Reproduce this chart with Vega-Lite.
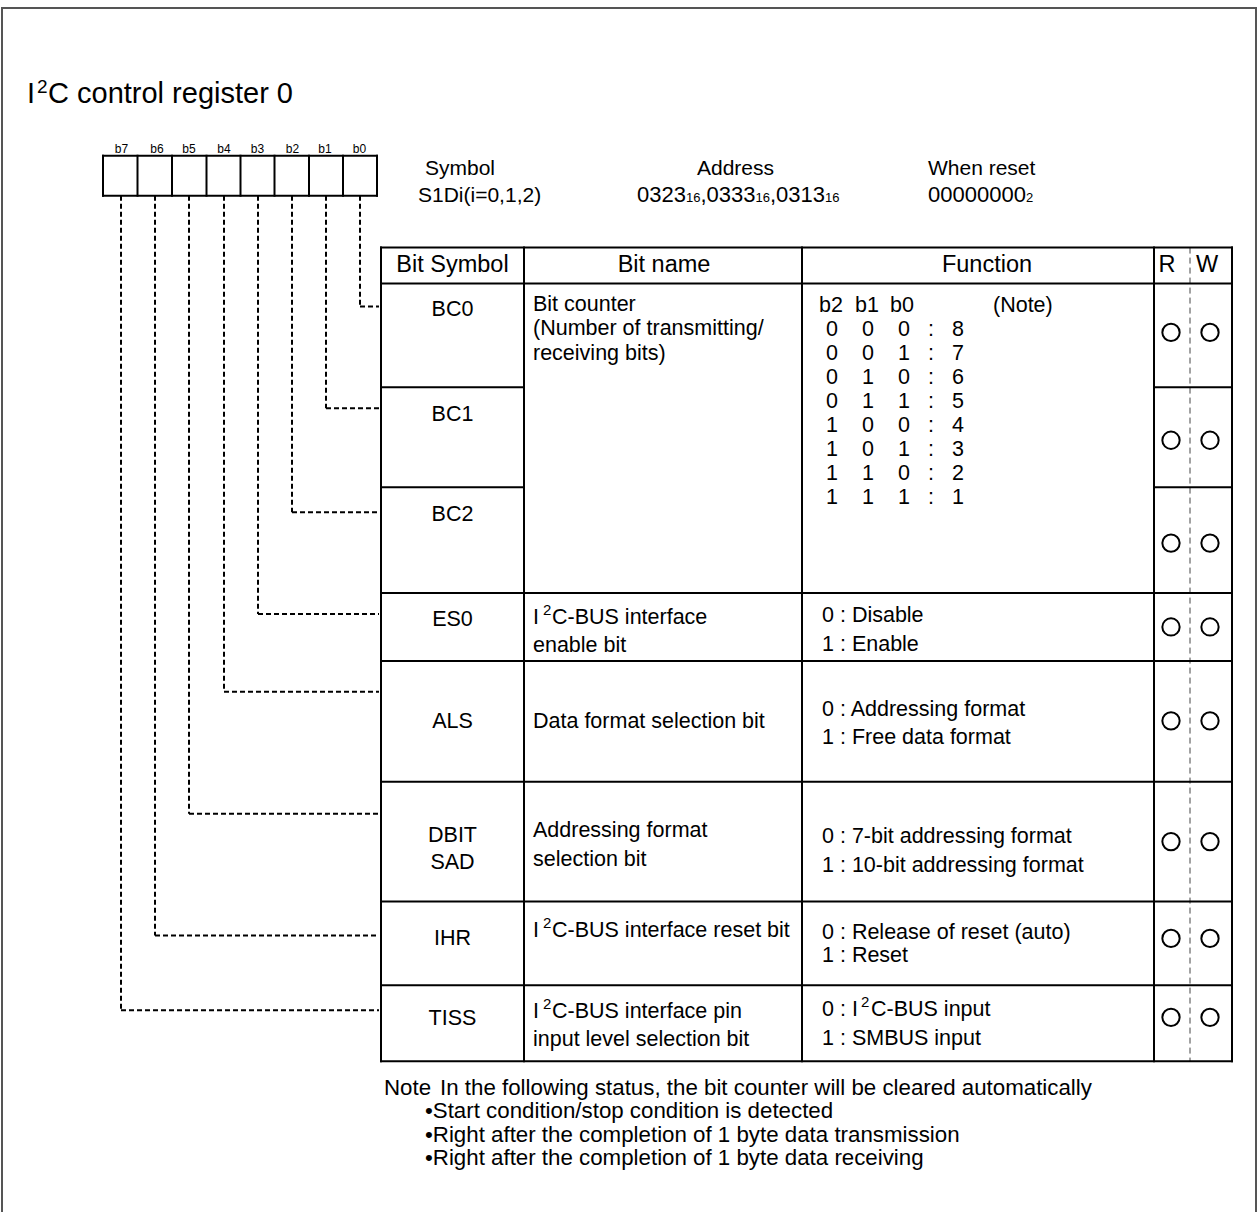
{
  "$schema": "https://vega.github.io/schema/vega-lite/v6.json",
  "width": 1259,
  "height": 1213,
  "autosize": {"type": "fit", "contains": "padding"},
  "padding": 0,
  "background": "white",
  "config": {"view": {"stroke": null}, "text": {"font": "Liberation Sans", "color": "black"}},
  "datasets": {
    "frame": [
      {"x": 2, "y": 8, "x2": 1256, "y2": 8},
      {"x": 2, "y": 8, "x2": 2, "y2": 1213},
      {"x": 1256, "y": 8, "x2": 1256, "y2": 1213}
    ],
    "grid": [
      {"x": 103, "y": 156, "x2": 377, "y2": 156},
      {"x": 103, "y": 196, "x2": 377, "y2": 196},
      {"x": 103, "y": 156, "x2": 103, "y2": 196},
      {"x": 137.5, "y": 156, "x2": 137.5, "y2": 196},
      {"x": 172, "y": 156, "x2": 172, "y2": 196},
      {"x": 206.5, "y": 156, "x2": 206.5, "y2": 196},
      {"x": 240.5, "y": 156, "x2": 240.5, "y2": 196},
      {"x": 274.5, "y": 156, "x2": 274.5, "y2": 196},
      {"x": 309, "y": 156, "x2": 309, "y2": 196},
      {"x": 343, "y": 156, "x2": 343, "y2": 196},
      {"x": 377, "y": 156, "x2": 377, "y2": 196},
      {"x": 381, "y": 248, "x2": 1232, "y2": 248},
      {"x": 381, "y": 284, "x2": 1232, "y2": 284},
      {"x": 381, "y": 388, "x2": 524, "y2": 388},
      {"x": 1154, "y": 388, "x2": 1232, "y2": 388},
      {"x": 381, "y": 488, "x2": 524, "y2": 488},
      {"x": 1154, "y": 488, "x2": 1232, "y2": 488},
      {"x": 381, "y": 594, "x2": 1232, "y2": 594},
      {"x": 381, "y": 662, "x2": 1232, "y2": 662},
      {"x": 381, "y": 783, "x2": 1232, "y2": 783},
      {"x": 381, "y": 903, "x2": 1232, "y2": 903},
      {"x": 381, "y": 987, "x2": 1232, "y2": 987},
      {"x": 381, "y": 1063, "x2": 1232, "y2": 1063},
      {"x": 381, "y": 248, "x2": 381, "y2": 1063},
      {"x": 524, "y": 248, "x2": 524, "y2": 1063},
      {"x": 802, "y": 248, "x2": 802, "y2": 1063},
      {"x": 1154, "y": 248, "x2": 1154, "y2": 1063},
      {"x": 1232, "y": 248, "x2": 1232, "y2": 1063}
    ],
    "rw": [
      {"x": 1190, "y": 248, "x2": 1190, "y2": 1063}
    ],
    "leaders": [
      {"x": 360, "y": 196, "x2": 360, "y2": 307},
      {"x": 360, "y": 307, "x2": 379, "y2": 307},
      {"x": 326, "y": 196, "x2": 326, "y2": 409},
      {"x": 326, "y": 409, "x2": 379, "y2": 409},
      {"x": 292, "y": 196, "x2": 292, "y2": 513},
      {"x": 292, "y": 513, "x2": 379, "y2": 513},
      {"x": 258, "y": 196, "x2": 258, "y2": 615},
      {"x": 258, "y": 615, "x2": 379, "y2": 615},
      {"x": 224, "y": 196, "x2": 224, "y2": 693},
      {"x": 224, "y": 693, "x2": 379, "y2": 693},
      {"x": 189, "y": 196, "x2": 189, "y2": 815},
      {"x": 189, "y": 815, "x2": 379, "y2": 815},
      {"x": 155, "y": 196, "x2": 155, "y2": 937},
      {"x": 155, "y": 937, "x2": 379, "y2": 937},
      {"x": 121, "y": 196, "x2": 121, "y2": 1012},
      {"x": 121, "y": 1012, "x2": 379, "y2": 1012}
    ],
    "circles": [
      {"x": 1171, "y": 333}, {"x": 1210, "y": 333},
      {"x": 1171, "y": 441}, {"x": 1210, "y": 441},
      {"x": 1171, "y": 544}, {"x": 1210, "y": 544},
      {"x": 1171, "y": 628}, {"x": 1210, "y": 628},
      {"x": 1171, "y": 722}, {"x": 1210, "y": 722},
      {"x": 1171, "y": 843}, {"x": 1210, "y": 843},
      {"x": 1171, "y": 940}, {"x": 1210, "y": 940},
      {"x": 1171, "y": 1019}, {"x": 1210, "y": 1019}
    ],
    "title": [
      {"x": 27, "y": 103, "t": "I"},
      {"x": 48, "y": 103, "t": "C control register 0"}
    ],
    "titlesup": [
      {"x": 37, "y": 93, "t": "2"}
    ],
    "bitlabels": [
      {"x": 121.5, "y": 153, "t": "b7"},
      {"x": 157, "y": 153, "t": "b6"},
      {"x": 189, "y": 153, "t": "b5"},
      {"x": 224, "y": 153, "t": "b4"},
      {"x": 257.5, "y": 153, "t": "b3"},
      {"x": 292.5, "y": 153, "t": "b2"},
      {"x": 325, "y": 153, "t": "b1"},
      {"x": 359.5, "y": 153, "t": "b0"}
    ],
    "info": [
      {"x": 425, "y": 175, "t": "Symbol"},
      {"x": 418, "y": 202, "t": "S1Di(i=0,1,2)"},
      {"x": 697, "y": 175, "t": "Address"},
      {"x": 928, "y": 175, "t": "When reset"}
    ],
    "infonum": [
      {"x": 637, "y": 202, "t": "0323"},
      {"x": 700.4, "y": 202, "t": ",0333"},
      {"x": 769.9, "y": 202, "t": ",0313"},
      {"x": 928, "y": 202, "t": "00000000"}
    ],
    "infosub": [
      {"x": 685.9, "y": 202, "t": "16"},
      {"x": 755.4, "y": 202, "t": "16"},
      {"x": 824.9, "y": 202, "t": "16"},
      {"x": 1026, "y": 202, "t": "2"}
    ],
    "headers": [
      {"x": 452.5, "y": 272, "t": "Bit Symbol"},
      {"x": 664, "y": 272, "t": "Bit name"},
      {"x": 987, "y": 272, "t": "Function"},
      {"x": 1167, "y": 272, "t": "R"},
      {"x": 1207, "y": 272, "t": "W"}
    ],
    "symbols": [
      {"x": 452.5, "y": 317, "t": "BC0"},
      {"x": 452.5, "y": 422, "t": "BC1"},
      {"x": 452.5, "y": 522, "t": "BC2"},
      {"x": 452.5, "y": 627, "t": "ES0"},
      {"x": 452.5, "y": 729, "t": "ALS"},
      {"x": 452.5, "y": 843, "t": "DBIT"},
      {"x": 452.5, "y": 870, "t": "SAD"},
      {"x": 452.5, "y": 947, "t": "IHR"},
      {"x": 452.5, "y": 1027, "t": "TISS"}
    ],
    "body": [
      {"x": 533, "y": 312, "t": "Bit counter"},
      {"x": 533, "y": 336, "t": "(Number of transmitting/"},
      {"x": 533, "y": 361, "t": "receiving bits)"},
      {"x": 533, "y": 625, "t": "I"},
      {"x": 552, "y": 625, "t": "C-BUS interface"},
      {"x": 533, "y": 653, "t": "enable bit"},
      {"x": 533, "y": 729, "t": "Data format selection bit"},
      {"x": 533, "y": 838, "t": "Addressing format"},
      {"x": 533, "y": 867, "t": "selection bit"},
      {"x": 533, "y": 939, "t": "I"},
      {"x": 552, "y": 939, "t": "C-BUS interface reset bit"},
      {"x": 533, "y": 1020, "t": "I"},
      {"x": 552, "y": 1020, "t": "C-BUS interface pin"},
      {"x": 533, "y": 1048, "t": "input level selection bit"},
      {"x": 993, "y": 313, "t": "(Note)"},
      {"x": 822, "y": 623, "t": "0 : Disable"},
      {"x": 822, "y": 652, "t": "1 : Enable"},
      {"x": 822, "y": 717, "t": "0 : Addressing format"},
      {"x": 822, "y": 745, "t": "1 : Free data format"},
      {"x": 822, "y": 844, "t": "0 : 7-bit addressing format"},
      {"x": 822, "y": 873, "t": "1 : 10-bit addressing format"},
      {"x": 822, "y": 941, "t": "0 : Release of reset (auto)"},
      {"x": 822, "y": 964, "t": "1 : Reset"},
      {"x": 822, "y": 1018, "t": "0 : I"},
      {"x": 871, "y": 1018, "t": "C-BUS input"},
      {"x": 822, "y": 1047, "t": "1 : SMBUS input"}
    ],
    "sup": [
      {"x": 543, "y": 616, "t": "2"},
      {"x": 543, "y": 930, "t": "2"},
      {"x": 543, "y": 1011, "t": "2"},
      {"x": 861, "y": 1009, "t": "2"}
    ],
    "bittable": [
      {"x": 831, "y": 313, "t": "b2"}, {"x": 867, "y": 313, "t": "b1"}, {"x": 902, "y": 313, "t": "b0"},
      {"x": 832, "y": 337, "t": "0"}, {"x": 868, "y": 337, "t": "0"}, {"x": 904, "y": 337, "t": "0"}, {"x": 931, "y": 337, "t": ":"}, {"x": 958, "y": 337, "t": "8"},
      {"x": 832, "y": 361, "t": "0"}, {"x": 868, "y": 361, "t": "0"}, {"x": 904, "y": 361, "t": "1"}, {"x": 931, "y": 361, "t": ":"}, {"x": 958, "y": 361, "t": "7"},
      {"x": 832, "y": 385, "t": "0"}, {"x": 868, "y": 385, "t": "1"}, {"x": 904, "y": 385, "t": "0"}, {"x": 931, "y": 385, "t": ":"}, {"x": 958, "y": 385, "t": "6"},
      {"x": 832, "y": 409, "t": "0"}, {"x": 868, "y": 409, "t": "1"}, {"x": 904, "y": 409, "t": "1"}, {"x": 931, "y": 409, "t": ":"}, {"x": 958, "y": 409, "t": "5"},
      {"x": 832, "y": 433, "t": "1"}, {"x": 868, "y": 433, "t": "0"}, {"x": 904, "y": 433, "t": "0"}, {"x": 931, "y": 433, "t": ":"}, {"x": 958, "y": 433, "t": "4"},
      {"x": 832, "y": 457, "t": "1"}, {"x": 868, "y": 457, "t": "0"}, {"x": 904, "y": 457, "t": "1"}, {"x": 931, "y": 457, "t": ":"}, {"x": 958, "y": 457, "t": "3"},
      {"x": 832, "y": 481, "t": "1"}, {"x": 868, "y": 481, "t": "1"}, {"x": 904, "y": 481, "t": "0"}, {"x": 931, "y": 481, "t": ":"}, {"x": 958, "y": 481, "t": "2"},
      {"x": 832, "y": 505, "t": "1"}, {"x": 868, "y": 505, "t": "1"}, {"x": 904, "y": 505, "t": "1"}, {"x": 931, "y": 505, "t": ":"}, {"x": 958, "y": 505, "t": "1"}
    ],
    "note": [
      {"x": 384, "y": 1097, "t": "Note"},
      {"x": 440, "y": 1097, "t": "In the following status, the bit counter will be cleared automatically"},
      {"x": 425, "y": 1120, "t": "•Start condition/stop condition is detected"},
      {"x": 425, "y": 1144, "t": "•Right after the completion of 1 byte data transmission"},
      {"x": 425, "y": 1167, "t": "•Right after the completion of 1 byte data receiving"}
    ]
  },
  "encoding": {
    "x": {"field": "x", "type": "quantitative", "scale": {"domain": [0, 1259], "nice": false, "zero": false}, "axis": null},
    "y": {"field": "y", "type": "quantitative", "scale": {"domain": [0, 1213], "reverse": true, "nice": false, "zero": false}, "axis": null}
  },
  "layer": [
    {"data": {"name": "frame"}, "mark": {"type": "rule", "color": "#555555", "strokeWidth": 2, "strokeCap": "square"},
     "encoding": {"x2": {"field": "x2"}, "y2": {"field": "y2"}}},
    {"data": {"name": "rw"}, "mark": {"type": "rule", "color": "#444444", "strokeWidth": 1, "strokeDash": [6, 4]},
     "encoding": {"x2": {"field": "x2"}, "y2": {"field": "y2"}}},
    {"data": {"name": "grid"}, "mark": {"type": "rule", "color": "black", "strokeWidth": 2, "strokeCap": "square"},
     "encoding": {"x2": {"field": "x2"}, "y2": {"field": "y2"}}},
    {"data": {"name": "leaders"}, "mark": {"type": "rule", "color": "black", "strokeWidth": 2, "strokeDash": [5, 3]},
     "encoding": {"x2": {"field": "x2"}, "y2": {"field": "y2"}}},
    {"data": {"name": "circles"}, "mark": {"type": "point", "shape": "circle", "filled": false, "stroke": "black", "strokeWidth": 2, "size": 300, "opacity": 1}},
    {"data": {"name": "title"}, "mark": {"type": "text", "align": "left", "baseline": "alphabetic", "fontSize": 29},
     "encoding": {"text": {"field": "t"}}},
    {"data": {"name": "titlesup"}, "mark": {"type": "text", "align": "left", "baseline": "alphabetic", "fontSize": 19},
     "encoding": {"text": {"field": "t"}}},
    {"data": {"name": "bitlabels"}, "mark": {"type": "text", "align": "center", "baseline": "alphabetic", "fontSize": 12},
     "encoding": {"text": {"field": "t"}}},
    {"data": {"name": "info"}, "mark": {"type": "text", "align": "left", "baseline": "alphabetic", "fontSize": 21},
     "encoding": {"text": {"field": "t"}}},
    {"data": {"name": "infonum"}, "mark": {"type": "text", "align": "left", "baseline": "alphabetic", "fontSize": 22},
     "encoding": {"text": {"field": "t"}}},
    {"data": {"name": "infosub"}, "mark": {"type": "text", "align": "left", "baseline": "alphabetic", "fontSize": 13},
     "encoding": {"text": {"field": "t"}}},
    {"data": {"name": "headers"}, "mark": {"type": "text", "align": "center", "baseline": "alphabetic", "fontSize": 23.5},
     "encoding": {"text": {"field": "t"}}},
    {"data": {"name": "symbols"}, "mark": {"type": "text", "align": "center", "baseline": "alphabetic", "fontSize": 21.5},
     "encoding": {"text": {"field": "t"}}},
    {"data": {"name": "body"}, "mark": {"type": "text", "align": "left", "baseline": "alphabetic", "fontSize": 21.5},
     "encoding": {"text": {"field": "t"}}},
    {"data": {"name": "sup"}, "mark": {"type": "text", "align": "left", "baseline": "alphabetic", "fontSize": 15},
     "encoding": {"text": {"field": "t"}}},
    {"data": {"name": "bittable"}, "mark": {"type": "text", "align": "center", "baseline": "alphabetic", "fontSize": 21.5},
     "encoding": {"text": {"field": "t"}}},
    {"data": {"name": "note"}, "mark": {"type": "text", "align": "left", "baseline": "alphabetic", "fontSize": 22.3},
     "encoding": {"text": {"field": "t"}}}
  ]
}
